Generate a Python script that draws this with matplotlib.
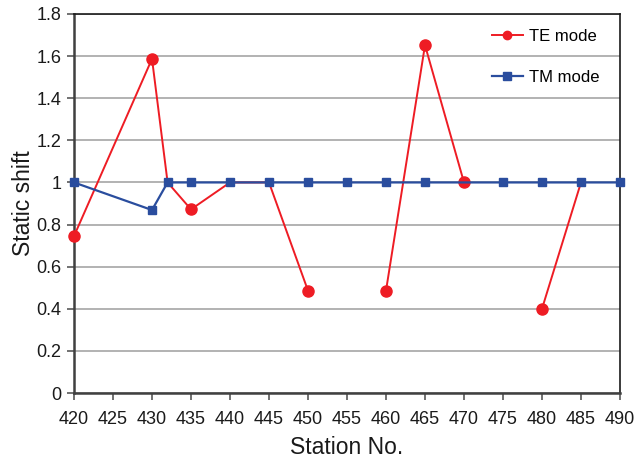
import numpy as np
import matplotlib
matplotlib.use("Agg")
import matplotlib.pyplot as plt

plt.rcParams['font.family'] = ['Liberation Sans', 'DejaVu Sans']

# Static shift factors per station (NaN = no estimate, leaves a gap)
te_stations = [420, 430, 432, 435, 440, 445, 450, 455, 460, 465, 470, 475, 480, 485]
te_shift = [0.745, 1.587, 1.0, 0.872, 1.0, 1.0, 0.486, np.nan, 0.486, 1.652, 1.0, np.nan, 0.40, 1.0]
# stations whose TE value gets its own marker (the others sit on the TM squares)
te_marked = [420, 430, 435, 450, 460, 465, 470, 480]

tm_stations = [420, 430, 432, 435, 440, 445, 450, 455, 460, 465, 475, 480, 485, 490]
tm_shift = [1.0, 0.869, 1.0, 1.0, 1.0, 1.0, 1.0, 1.0, 1.0, 1.0, 1.0, 1.0, 1.0, 1.0]

x_ticks = list(range(420, 491, 5))
y_ticks = [0, 0.2, 0.4, 0.6, 0.8, 1, 1.2, 1.4, 1.6, 1.8]
y_ticklabels = ['0', '0.2', '0.4', '0.6', '0.8', '1', '1.2', '1.4', '1.6', '1.8']

fig = plt.figure(figsize=(6.35, 4.63), dpi=100)
ax = fig.add_axes([74 / 635, 1 - 393 / 463, (620 - 74) / 635, (393 - 14) / 463])

te_marks = [i for i, s in enumerate(te_stations) if s in te_marked]
ax.plot(te_stations, te_shift, color='#ee1c24', lw=1.4, marker='o', ms=8,
        markevery=te_marks, label='TE mode', zorder=3, clip_on=False)
ax.plot(tm_stations, tm_shift, color='#2a4d9e', lw=1.6, marker='s', ms=6,
        label='TM mode', zorder=4, clip_on=False)

ax.set_xlim(420, 490)
ax.set_ylim(0, 1.8)
ax.set_xticks(x_ticks)
ax.set_yticks(y_ticks)
ax.set_yticklabels(y_ticklabels)
ax.yaxis.grid(True, color='#a6a6a6', lw=1.2)
ax.set_axisbelow(True)

ax.tick_params(axis='both', direction='out', length=5, width=1.2, color='#595959',
               labelsize=13, labelcolor='#1a1a1a')
ax.tick_params(axis='y', pad=4)
ax.tick_params(axis='x', pad=8)
for side in ('left', 'bottom'):
    ax.spines[side].set_color('#404040')
    ax.spines[side].set_linewidth(1.8)
for side in ('top', 'right'):
    ax.spines[side].set_color('#1a1a1a')
    ax.spines[side].set_linewidth(1.2)

ax.set_xlabel('Station No.', fontsize=16.5, color='#1a1a1a', labelpad=6)
ax.set_ylabel('Static shift', fontsize=16.5, color='#1a1a1a', labelpad=1)

leg = ax.legend(loc='upper right', frameon=False, fontsize=12, handlelength=1.9,
                handletextpad=0.35, labelspacing=1.55, bbox_to_anchor=(0.99, 1.0),
                borderaxespad=0.5)
for h in leg.legend_handles:
    h.set_markersize(6)

fig.savefig('out.png', dpi=100)
